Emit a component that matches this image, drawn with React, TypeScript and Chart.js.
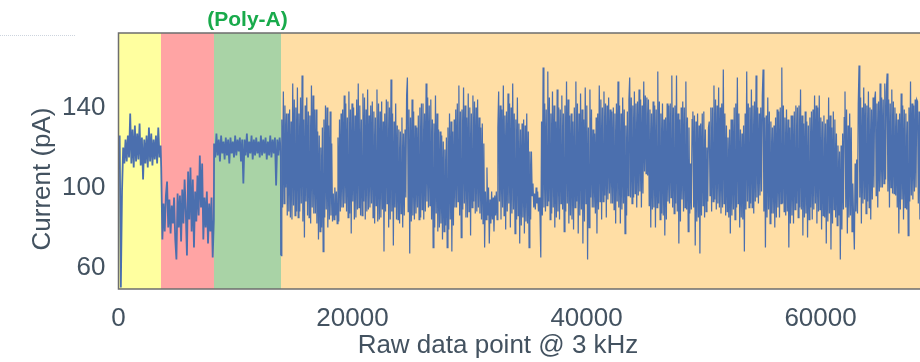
import React, { useEffect, useRef } from "react";
import { Chart, registerables } from "chart.js";

Chart.register(...registerables);

// Read segments: each has a start sample and a fixed sample step (3 kHz raw index)
const OPEN_PORE_START = 0;
const OPEN_PORE_STEP = 100;
const openPore = [
  120, 126, 50, 98, 120, 112, 124, 113, 126, 115, 137, 112, 129, 110, 131, 113, 127, 114, 132,
  111, 125, 104, 124, 112, 126, 110, 130, 113, 127, 111, 124, 114, 126, 112, 130, 115, 121,
];

const ADAPTER_START = 3650;
const ADAPTER_STEP = 100;
const adapter = [
  110, 74, 92, 78, 96, 103, 80, 94, 77, 91, 82, 95, 74, 64, 97, 80, 96, 73, 99, 82, 104, 88, 66,
  108, 84, 110, 78, 104, 70, 98, 83, 106, 86, 116, 90, 112, 74, 95, 80, 98, 72, 92, 78, 95, 65, 84,
];

const POLY_A_START = 8170;
const POLY_A_STEP = 100;
const polyA = [
  122, 115, 127, 116, 124, 113, 126, 117, 123, 114, 125, 116, 124, 112, 125, 117, 123, 115, 126,
  116, 124, 118, 125, 113, 124, 102, 124, 116, 127, 115, 123, 117, 126, 114, 124, 116, 125, 117,
  123, 115, 126, 116, 124, 117, 125, 114, 123, 116, 126, 115, 124, 117, 125, 101, 124, 116, 125, 118,
];

// Transcript: outer swings every 200 samples
const TRANSCRIPT_START = 13890;
const TRANSCRIPT_STEP = 200;
const transcriptPeaks = [
  66, 148, 100, 137, 85, 152, 86, 150, 88, 156, 75, 145, 85, 151, 87, 139, 74, 120, 68, 141, 80,
  138, 83, 100, 82, 134, 90, 146, 88, 148, 77, 140, 85, 152, 86, 147, 84, 149, 90, 143, 82, 149,
  84, 143, 68, 144, 80, 154, 71, 142, 84, 128, 80,
  129, 155, 67, 144, 84, 130, 84, 142, 84, 152, 90, 144, 70, 146, 78, 128, 74, 119, 70, 137, 68,
  134, 90, 151, 75, 150, 85, 147, 76, 146, 87, 144, 87, 132, 70, 110, 72, 98, 78, 98, 148, 84, 151,
  79, 147, 80, 152, 77, 145, 72, 132, 77, 137, 70,
  118, 90, 100, 88, 65, 160, 88, 158, 84, 148, 80, 149, 84, 146, 78, 153, 82, 137, 79, 153, 77,
  147, 72, 150, 64, 149, 90, 127, 77, 151, 84, 148, 85, 145, 92, 140, 82, 153, 82, 145, 77, 138,
  155, 92, 148, 90, 149, 90, 153, 107, 144, 80, 143,
  80, 158, 84, 142, 76, 142, 92, 156, 87, 156, 72, 140, 88, 153, 78, 112, 138, 71, 137, 67, 137,
  85, 120, 133, 88, 151, 89, 150, 87, 159, 86, 125, 77, 134, 84, 155, 80, 127, 68, 158, 90, 149,
  87, 156, 92, 140, 159, 70, 145, 82, 130, 80, 139, 85,
  160, 88, 139, 70, 136, 82, 141, 85, 149, 76, 138, 75, 135, 84, 146, 82, 146, 79, 136, 72, 145,
  69, 138, 85, 121, 64, 127, 148, 77, 137, 78, 69, 114, 161, 82, 150, 87, 148, 84, 145, 148, 90,
  152, 100, 152, 157, 90, 149, 97, 137, 77, 147, 84, 137, 76, 153, 94, 144, 143, 84, 120,
];

// Transcript: two inner strokes between each pair of outer swings
const transcriptInner = [
  134, 90, 92, 141, 137, 86, 88, 139, 133, 84, 91, 144, 140, 88, 85, 137, 145, 92, 83, 134,
  141, 93, 86, 138, 136, 82, 90, 146, 139, 87, 82, 128, 126, 78, 80, 130, 134, 85, 89, 140,
  131, 84, 86, 122, 97, 84, 86, 98, 125, 83, 88, 137, 139, 90, 92, 142, 135, 85, 87, 139,
  142, 93, 84, 136, 144, 89, 90, 141, 134, 86, 93, 145, 139, 88, 89, 136, 141, 92, 85, 138,
  135, 91, 83, 142, 138, 85, 89, 133, 137, 88, 92, 143, 140, 84, 88, 137, 133, 90, 84, 131,
  129, 82, 87, 135, 127, 86,
  95, 146, 88, 139, 135, 83, 86, 138, 131, 87, 90, 136, 140, 85, 89, 142, 137, 88, 93, 145,
  141, 91, 84, 134, 132, 80, 87, 137, 129, 80, 82, 126, 123, 78, 81, 125, 130, 79, 84, 133,
  128, 81, 90, 139, 142, 93, 86, 138, 139, 89, 92, 141, 135, 85, 88, 140, 137, 90, 93, 143,
  140, 88, 90, 135, 130, 84, 82, 122, 98, 84, 86, 100, 94, 82, 84, 95, 96, 86, 84, 130,
  93, 141, 139, 90, 86, 136, 138, 88, 92, 142, 140, 87, 89, 137, 134, 84, 86, 132, 129, 81,
  85, 134, 131, 83, 82, 128, 118, 84,
  96, 102, 97, 89, 92, 98, 95, 86, 133, 86, 90, 142, 139, 91, 93, 145, 137, 87, 90, 141,
  133, 85, 88, 140, 139, 92, 89, 137, 141, 88, 92, 144, 136, 86, 84, 133, 140, 90, 93, 142,
  137, 86, 89, 139, 134, 83, 92, 141, 130, 80, 95, 139, 129, 90, 87, 135, 137, 89, 93, 144,
  140, 93, 96, 142, 141, 94, 97, 139, 138, 92, 89, 137, 142, 93, 90, 141, 137, 89, 92, 139,
  131, 86, 96, 144, 95, 145, 141, 95, 97, 142, 143, 96, 98, 144, 141, 97, 108, 146, 145, 106,
  91, 139, 137, 89, 90, 141,
  139, 90, 92, 143, 137, 87, 86, 134, 135, 84, 93, 141, 142, 95, 90, 140, 141, 92, 88, 137,
  134, 83, 94, 143, 140, 90, 89, 135, 130, 87, 89, 134, 90, 136, 133, 83, 85, 131, 132, 86,
  91, 138, 129, 88, 93, 130, 96, 140, 140, 93, 94, 144, 141, 92, 90, 140, 142, 90, 92, 137,
  131, 88, 85, 129, 134, 86, 89, 140, 142, 90, 92, 137, 129, 85, 84, 131, 137, 89, 93, 142,
  140, 92, 90, 141, 143, 93, 95, 140, 137, 96, 98, 146, 88, 135, 136, 85, 89, 138, 133, 87,
  87, 131, 135, 85, 90, 138, 140, 92,
  92, 141, 135, 86, 88, 134, 130, 82, 86, 136, 138, 89, 92, 140, 141, 90, 89, 136, 132, 85,
  87, 133, 131, 84, 90, 138, 139, 89, 92, 141, 140, 88, 89, 135, 133, 86, 85, 132, 134, 83,
  87, 136, 130, 82, 89, 134, 127, 81, 86, 118, 121, 79, 89, 135, 90, 139, 131, 85, 86, 130,
  102, 84, 112, 88, 87, 142, 95, 145, 140, 92, 94, 142, 141, 93, 90, 140, 139, 94, 100, 144,
  96, 142, 143, 98, 100, 145, 144, 102, 104, 148, 98, 144, 142, 100, 97, 143, 140, 96, 90, 134,
  137, 89, 94, 141, 139, 90, 89, 133, 140, 93, 96, 142, 141, 98, 100, 144, 92, 138, 130, 88,
];

// Shaded read segments (sample boundaries) and their fills
const SEGMENT_BOUNDS = [0, 3630, 8160, 13890, 68500];
const SEGMENT_COLORS = ["#ffff9f", "#ffa4a4", "#a9d3a6", "#ffdea5"];

const X_TICKS = [0, 20000, 40000, 60000];
const Y_TICKS = [60, 100, 140];

const X_TITLE = "Raw data point @ 3 kHz";
const Y_TITLE = "Current (pA)";
const POLY_A_LABEL = "(Poly-A)";

const TEXT_COLOR = "#435260";
const FONT_FAMILY = "'Liberation Sans', Arial, sans-serif";

function toPoints(start: number, step: number, values: number[]) {
  return values.map((v, i) => ({ x: start + i * step, y: v }));
}

function transcriptPoints() {
  const pts: { x: number; y: number }[] = [];
  const third = TRANSCRIPT_STEP / 3;
  transcriptPeaks.forEach((v, k) => {
    const x = TRANSCRIPT_START + k * TRANSCRIPT_STEP;
    pts.push({ x, y: v });
    if (2 * k + 1 < transcriptInner.length) {
      pts.push({ x: x + third, y: transcriptInner[2 * k] });
      pts.push({ x: x + 2 * third, y: transcriptInner[2 * k + 1] });
    }
  });
  return pts;
}

const decorPlugin = {
  id: "decor",
  beforeDatasetsDraw(chart: any) {
    const { ctx, chartArea, scales } = chart;
    const xs = scales.x;
    ctx.save();
    for (let i = 0; i < SEGMENT_COLORS.length; i++) {
      const x0 = xs.getPixelForValue(SEGMENT_BOUNDS[i]);
      const x1 = xs.getPixelForValue(SEGMENT_BOUNDS[i + 1]);
      ctx.fillStyle = SEGMENT_COLORS[i];
      ctx.fillRect(x0, chartArea.top, x1 - x0, chartArea.bottom - chartArea.top);
    }
    ctx.restore();
  },
  afterDraw(chart: any) {
    const { ctx, chartArea, scales } = chart;
    const xs = scales.x;
    ctx.save();
    // plot frame
    ctx.strokeStyle = "#6e6e6e";
    ctx.lineWidth = 1.5;
    ctx.beginPath();
    ctx.moveTo(chartArea.right + 5, chartArea.top);
    ctx.lineTo(chartArea.left, chartArea.top);
    ctx.lineTo(chartArea.left, chartArea.bottom);
    ctx.lineTo(chartArea.right + 5, chartArea.bottom);
    ctx.stroke();

    // faint dotted rule at the top left
    ctx.strokeStyle = "#cdd4de";
    ctx.lineWidth = 1;
    ctx.setLineDash([1, 1]);
    ctx.beginPath();
    ctx.moveTo(0, 35.5);
    ctx.lineTo(76, 35.5);
    ctx.stroke();
    ctx.setLineDash([]);

    // poly-A label centred over its segment
    const pa = (xs.getPixelForValue(SEGMENT_BOUNDS[2]) + xs.getPixelForValue(SEGMENT_BOUNDS[3])) / 2;
    ctx.fillStyle = "#18aa4b";
    ctx.font = `bold 21px ${FONT_FAMILY}`;
    ctx.textAlign = "center";
    ctx.textBaseline = "middle";
    ctx.fillText(POLY_A_LABEL, pa, 20);

    // axis titles
    ctx.fillStyle = TEXT_COLOR;
    ctx.font = `26px ${FONT_FAMILY}`;
    ctx.fillText(X_TITLE, 498, 346);
    ctx.translate(43, 179);
    ctx.rotate(-Math.PI / 2);
    ctx.fillText(Y_TITLE, 0, 0);
    ctx.restore();
  },
};

export default function App() {
  const canvasRef = useRef<HTMLCanvasElement | null>(null);

  useEffect(() => {
    const canvas = canvasRef.current;
    if (!canvas) return;
    const data = [
      ...toPoints(OPEN_PORE_START, OPEN_PORE_STEP, openPore),
      ...toPoints(ADAPTER_START, ADAPTER_STEP, adapter),
      ...toPoints(POLY_A_START, POLY_A_STEP, polyA),
      ...transcriptPoints(),
    ];
    const chart = new Chart(canvas, {
      type: "line",
      data: {
        datasets: [
          {
            data,
            borderColor: "#4b6fae",
            borderWidth: 1.8,
            pointRadius: 0,
            tension: 0,
            fill: false,
            segment: {
              // the dense transcript trace is drawn with a finer stroke
              borderWidth: (c: any) => (c.p0.parsed.x >= TRANSCRIPT_START ? 1.25 : 1.8),
            },
          },
        ],
      },
      options: {
        responsive: false,
        animation: false,
        layout: { padding: { top: 33, right: 0, bottom: 0, left: 0 } },
        plugins: { legend: { display: false }, tooltip: { enabled: false } },
        scales: {
          x: {
            type: "linear",
            min: 0,
            max: 68500,
            grid: { display: false, drawTicks: false },
            border: { display: false },
            afterBuildTicks: (s: any) => {
              s.ticks = X_TICKS.map((v) => ({ value: v }));
            },
            afterFit: (s: any) => {
              s.height = 73;
            },
            ticks: {
              includeBounds: false,
              autoSkip: false,
              maxRotation: 0,
              padding: 14,
              color: TEXT_COLOR,
              font: { family: FONT_FAMILY, size: 26 },
              callback: (v: any) => String(v),
            },
          },
          y: {
            min: 49.25,
            max: 177.25,
            grid: { display: false, drawTicks: false },
            border: { display: false },
            afterBuildTicks: (s: any) => {
              s.ticks = Y_TICKS.map((v) => ({ value: v }));
            },
            afterFit: (s: any) => {
              s.width = 118.5;
            },
            ticks: {
              includeBounds: false,
              autoSkip: false,
              padding: 13,
              color: TEXT_COLOR,
              font: { family: FONT_FAMILY, size: 26 },
              callback: (v: any) => String(v),
            },
          },
        },
      },
      plugins: [decorPlugin],
    });
    return () => chart.destroy();
  }, []);

  return (
    <div style={{ position: "fixed", left: 0, top: 0, width: 920, height: 362, background: "#fff" }}>
      <canvas ref={canvasRef} width={920} height={362} />
    </div>
  );
}
